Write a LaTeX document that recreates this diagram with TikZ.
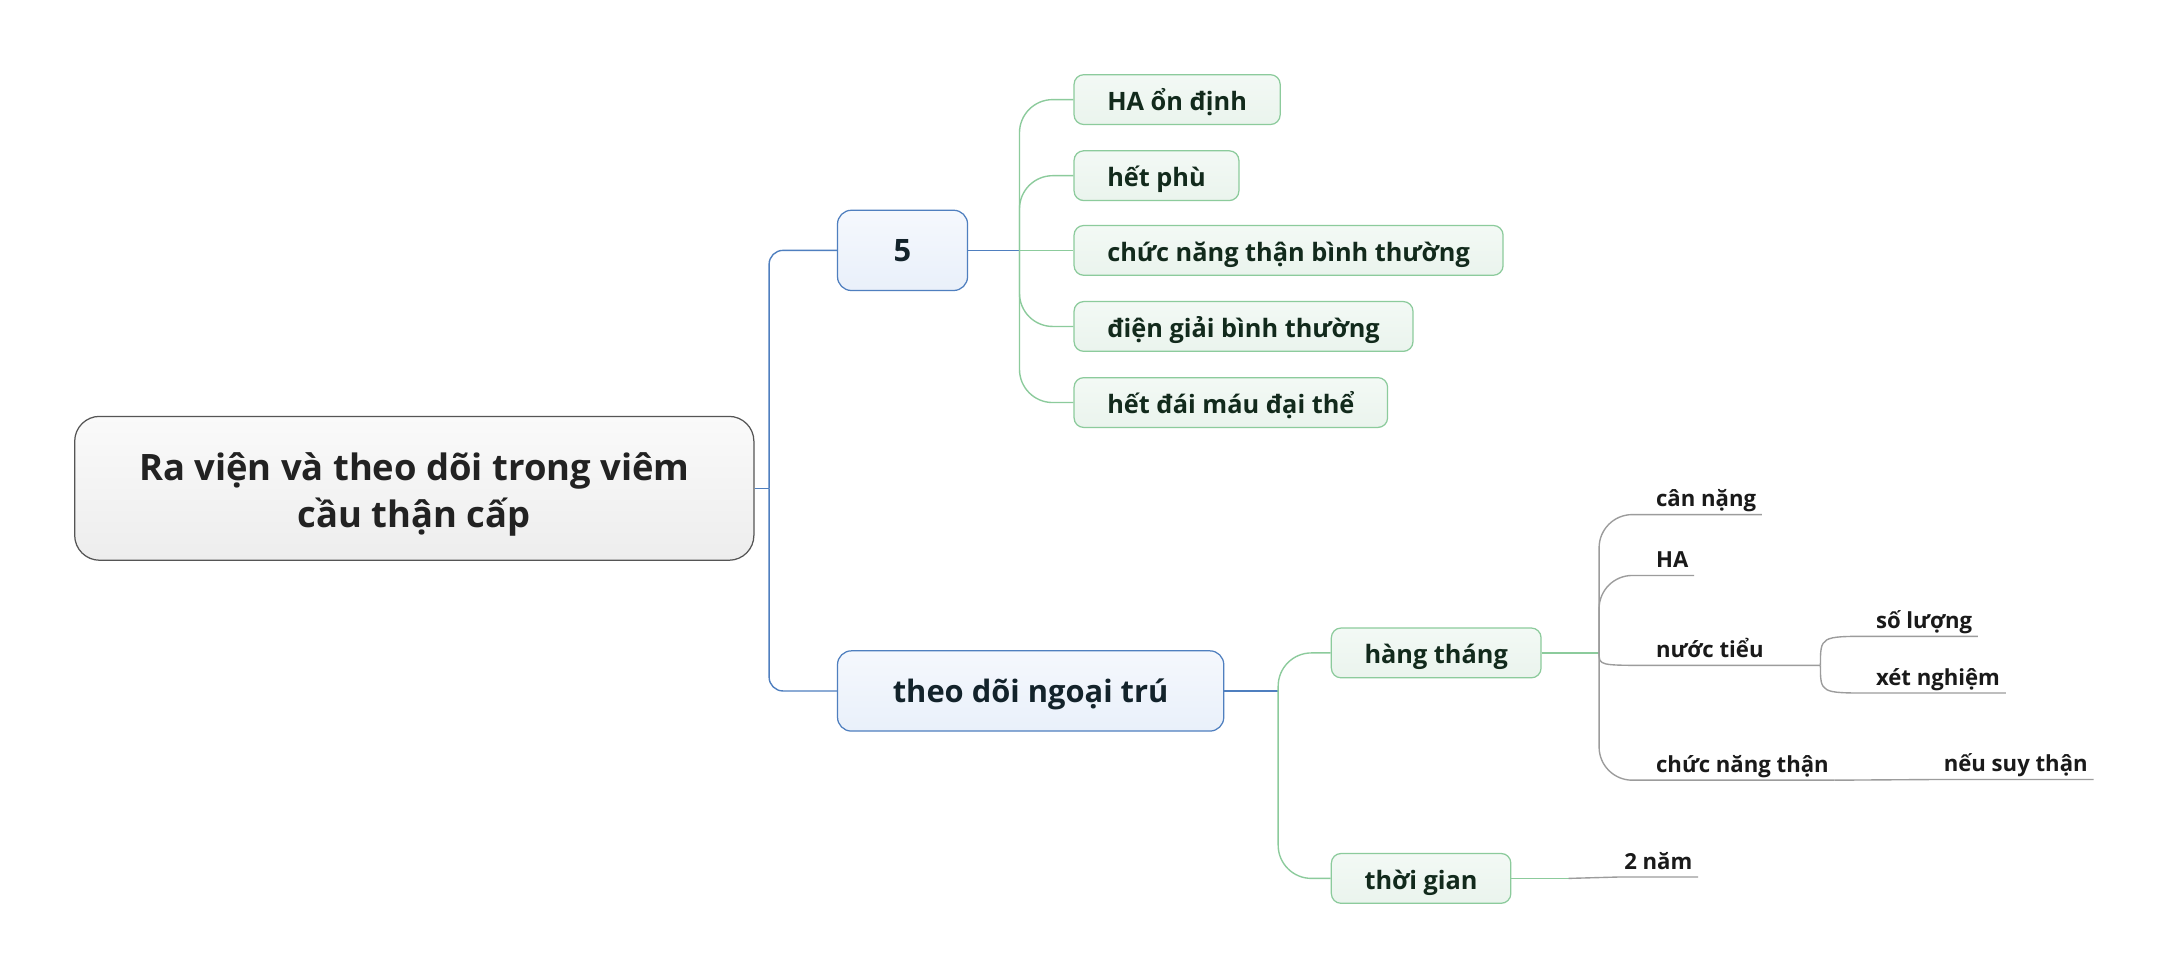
\documentclass[tikz,border=0pt]{standalone}
\usepackage{fontspec}
\setmainfont{Open Sans}
\usetikzlibrary{positioning,calc}
\definecolor{rootline}{HTML}{555555}
\definecolor{rootA}{HTML}{FAFAFA}
\definecolor{rootB}{HTML}{EDEDED}
\definecolor{rootText}{HTML}{222222}
\definecolor{mainline}{HTML}{4F7FBF}
\definecolor{mainA}{HTML}{F5F8FD}
\definecolor{mainB}{HTML}{E9F0FA}
\definecolor{mainText}{HTML}{13232B}
\definecolor{subline}{HTML}{8CCB9C}
\definecolor{subA}{HTML}{F3F9F5}
\definecolor{subB}{HTML}{EAF4ED}
\definecolor{subText}{HTML}{122A1C}
\definecolor{leafline}{HTML}{9C9C9C}
\definecolor{leafText}{HTML}{1A1A1A}
\begin{document}
\begin{tikzpicture}[x=1pt,y=-1pt,
  rootbox/.style={draw=rootline, line width=0.9pt, rounded corners=18pt, top color=rootA, bottom color=rootB,
    minimum width=491pt, minimum height=104pt, align=center, text=rootText,
    font=\fontsize{26.3}{34}\selectfont\bfseries},
  mainbox/.style={draw=mainline, line width=0.9pt, rounded corners=10pt, top color=mainA, bottom color=mainB,
    anchor=west, minimum height=58pt, inner xsep=40pt, text height=22pt, text depth=5.4pt, text=mainText,
    font=\fontsize{22.3}{26}\selectfont\bfseries},
  subbox/.style={draw=subline, line width=0.9pt, rounded corners=7pt, top color=subA, bottom color=subB,
    anchor=west, minimum height=36pt, inner xsep=24pt, text height=20pt, text depth=4pt, text=subText,
    font=\fontsize{18.3}{22}\selectfont\bfseries},
  leaf/.style={anchor=south west, inner xsep=4pt, inner ysep=1pt, text height=14pt, text depth=4.5pt,
    text=leafText, font=\fontsize{16}{19}\selectfont\bfseries},
  blueline/.style={draw=mainline, line width=1pt},
  greenline/.style={draw=subline, line width=1pt},
  grayline/.style={draw=leafline, line width=1pt}]
\fill[white] (0,0) rectangle (1568,707);
\useasboundingbox (0,0) rectangle (1568,707);

\node[rootbox] (root) at (299.5,353) {\rule{0pt}{30pt}Ra viện và theo dõi trong viêm\\cầu thận cấp\rule[-8pt]{0pt}{8pt}};
\node[mainbox, minimum width=94pt] (five) at (605,181) {5};
\node[mainbox] (follow) at (605,499.5) {theo dõi ngoại trú};

\node[subbox] (bp) at (776,72) {HA ổn định};
\node[subbox] (edema) at (776,127) {hết phù};
\node[subbox] (renal) at (776,181) {chức năng thận bình thường};
\node[subbox] (lytes) at (776,236) {điện giải bình thường};
\node[subbox] (hema) at (776,291) {hết đái máu đại thể};
\node[subbox] (monthly) at (962,472) {hàng tháng};
\node[subbox] (period) at (962,635) {thời gian};

\node[leaf] (weight) at (1193,372) {cân nặng};
\node[leaf] (pressure) at (1193,416) {HA};
\node[leaf] (urine) at (1193,481) {nước tiểu};
\node[leaf] (kidney) at (1193,564) {chức năng thận};
\node[leaf] (volume) at (1352,460) {số lượng};
\node[leaf] (test) at (1352,501) {xét nghiệm};
\node[leaf] (failure) at (1401,563.5) {nếu suy thận};
\node[leaf] (twoyears) at (1170,634) {2 năm};

\coordinate (rootJ) at (556,353);
\coordinate (fiveJ) at (737,181);
\coordinate (followJ) at (924,499.5);
\coordinate (monthJ) at (1156,472);
\coordinate (periodJ) at (1134,635);
\coordinate (urineJ) at (1316,481);

\draw[blueline] (root.east) -- (rootJ);
\draw[blueline, rounded corners=10pt] (rootJ) |- (five.west);
\draw[blueline, rounded corners=10pt] (rootJ) |- (follow.west);
\draw[blueline] (five.east) -- (fiveJ);
\foreach \n in {bp,edema,lytes,hema}
  \draw[greenline, rounded corners=24pt] (fiveJ) |- (\n.west);
\draw[greenline] (fiveJ) -- (renal.west);

\draw[blueline] (follow.east) -- (followJ);
\foreach \n in {monthly,period}
  \draw[greenline, rounded corners=24pt] (followJ) |- (\n.west);

\draw[greenline] (monthly.east) -- (monthJ);
\foreach \n in {weight,pressure,kidney}
  \draw[grayline, rounded corners=24pt] (monthJ) |- (\n.south east);
\draw[grayline] (monthJ) .. controls (monthJ |- urine.south) .. (urine.south west) -- (urine.south east) -- (urineJ);
\draw[grayline] (urineJ) .. controls (urineJ |- volume.south) .. (volume.south west) -- (volume.south east);
\draw[grayline] (urineJ) .. controls (urineJ |- test.south) .. (test.south west) -- (test.south east);
\draw[grayline] (kidney.south east) -- (failure.south west) -- (failure.south east);

\draw[greenline] (period.east) -- (periodJ);
\draw[grayline] (periodJ) -- (twoyears.south west) -- (twoyears.south east);
\end{tikzpicture}
\end{document}
